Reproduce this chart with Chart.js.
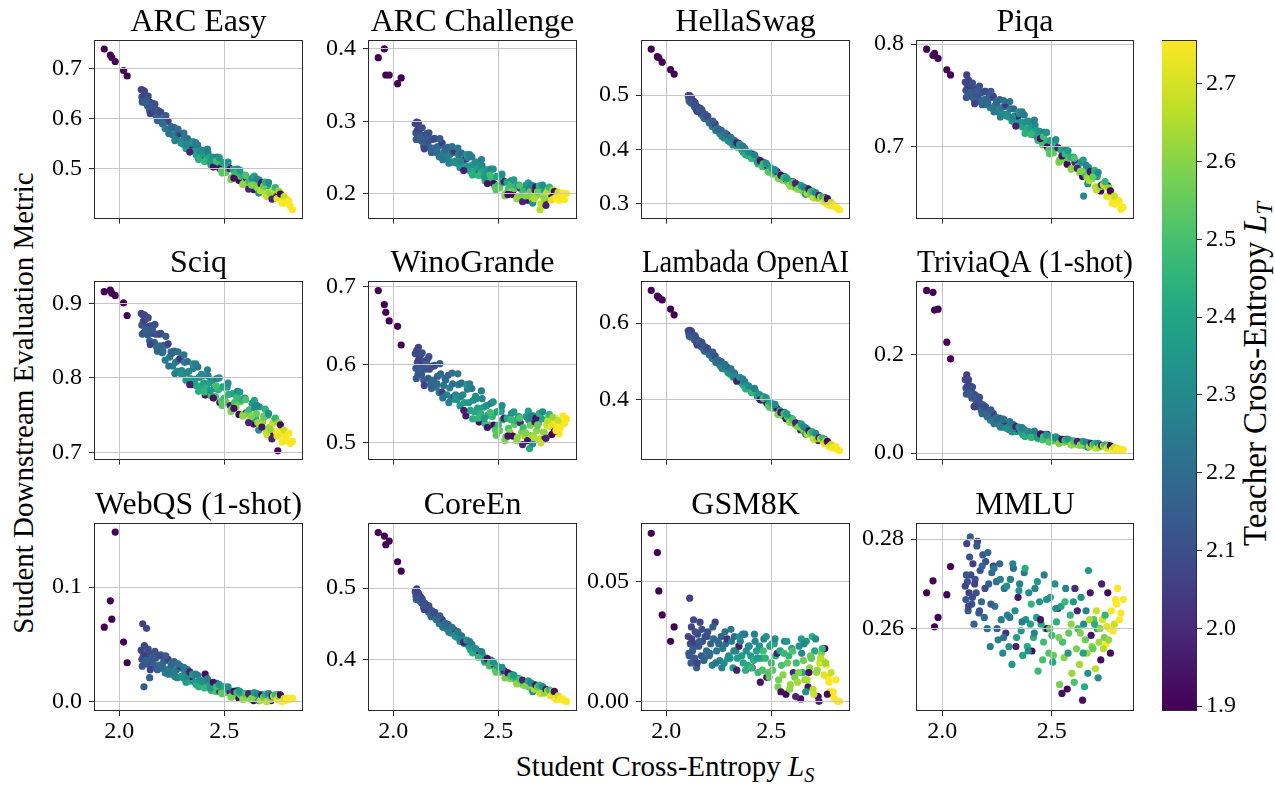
<!DOCTYPE html>
<html>
<head>
<meta charset="utf-8">
<script src="https://cdn.jsdelivr.net/npm/chart.js@4.4.1/dist/chart.umd.min.js"></script>
<style>
  html, body { margin: 0; padding: 0; background: #fff; }
  #fig { position: relative; width: 1275px; height: 788px; overflow: hidden;
         font-family: 'Liberation Serif', 'Times New Roman', serif; }
  #fig canvas { position: absolute; }
  .lbl { position: absolute; white-space: nowrap; color: #000; line-height: 1;
         transform: translate(-50%, -50%); }
  .rot { transform: translate(-50%, -50%) rotate(-90deg); }
  .lbl sub { font-size: 0.7em; vertical-align: baseline; position: relative; top: 0.28em; }
</style>
</head>
<body>
<div id="fig">
  <div class="lbl rot" style="left:23px; top:403px; font-size:29px;">Student Downstream Evaluation Metric</div>
  <div class="lbl" style="left:665px; top:766px; font-size:29px;">Student Cross-Entropy <i>L</i><sub><i>S</i></sub></div>
  <div class="lbl rot" style="left:1255px; top:374px; font-size:33px;">Teacher Cross-Entropy <i>L</i><sub><i>T</i></sub></div>
</div>
<script>
// one entry per model: student cross-entropy (x) and teacher cross-entropy (colour)
const studentCE = [
  1.929, 1.958, 1.965, 1.981, 2.021, 2.038,
  2.105, 2.108, 2.112, 2.115, 2.118, 2.122, 2.125, 2.130, 2.135, 2.140,
  2.145, 2.150, 2.155, 2.161, 2.167, 2.173, 2.179, 2.185, 2.192, 2.198,
  2.205, 2.212, 2.219, 2.226, 2.233, 2.240, 2.247, 2.255, 2.262, 2.269,
  2.276, 2.283, 2.290, 2.297, 2.304, 2.311, 2.318, 2.325, 2.332, 2.339,
  2.346, 2.353, 2.360, 2.367, 2.374, 2.381, 2.388, 2.395, 2.402, 2.409,
  2.416, 2.423, 2.430, 2.437, 2.444, 2.451, 2.458, 2.465, 2.472, 2.479,
  2.486, 2.493, 2.500, 2.507, 2.514, 2.521, 2.528, 2.535, 2.542, 2.549,
  2.556, 2.563, 2.570, 2.577, 2.584, 2.591, 2.598, 2.605, 2.612, 2.619,
  2.626, 2.633, 2.640, 2.645, 2.649, 2.653, 2.660, 2.667, 2.675, 2.683,
  2.691, 2.699, 2.707, 2.715, 2.723, 2.731, 2.739, 2.747, 2.755, 2.763,
  2.771, 2.780, 2.790, 2.800, 2.815, 2.825,
  2.110, 2.120, 2.128, 2.138, 2.148, 2.158, 2.170, 2.182, 2.195, 2.208,
  2.222, 2.236, 2.250, 2.265, 2.280, 2.294, 2.308, 2.322, 2.336, 2.350,
  2.364, 2.378, 2.392, 2.406, 2.420, 2.434, 2.448, 2.462, 2.476, 2.490,
  2.504, 2.518, 2.532, 2.546, 2.560, 2.574, 2.588, 2.602, 2.616, 2.630,
  2.643, 2.656, 2.664, 2.671, 2.679, 2.687, 2.695, 2.703, 2.711, 2.719,
  2.727, 2.735, 2.743, 2.751, 2.759, 2.767, 2.775, 2.785, 2.795, 2.808
];
const teacherCE = [
  1.895, 1.895, 1.895, 1.895, 1.895, 1.895,
  2.08, 2.12, 2.06, 2.10, 2.14, 2.05, 2.11, 2.08, 2.13, 2.04,
  2.16, 2.09, 2.12, 2.07, 2.15, 2.10, 2.18, 2.13, 2.20, 2.11,
  2.22, 2.16, 2.25, 2.19, 2.05, 2.24, 2.21, 2.28, 2.17, 2.26,
  2.30, 2.22, 2.02, 2.29, 2.33, 2.25, 2.36, 2.20, 2.31, 2.38,
  1.95, 2.27, 2.35, 2.40, 2.24, 2.33, 2.42, 2.30, 2.37, 1.93,
  2.44, 2.28, 2.39, 2.47, 2.34, 2.41, 2.50, 2.26, 2.45, 1.92,
  2.52, 2.38, 2.48, 2.55, 2.32, 2.44, 1.96, 2.57, 2.40, 2.50,
  2.60, 2.29, 1.91, 2.54, 2.45, 2.62, 2.36, 2.00, 2.58, 2.48,
  2.64, 2.33, 1.93, 2.30, 2.42, 2.56, 2.62, 2.35, 1.95, 2.60,
  2.52, 2.66, 2.40, 2.63, 1.92, 2.70, 2.58, 2.755, 1.90, 2.755,
  2.755, 2.755, 2.755, 2.755, 2.755, 2.755,
  2.13, 2.07, 2.15, 2.10, 2.06, 2.14, 2.11, 2.17, 2.09, 2.19,
  2.14, 2.23, 2.18, 2.27, 2.21, 2.32, 2.24, 2.28, 1.97, 2.34,
  2.26, 2.43, 2.31, 2.46, 2.27, 2.36, 1.94, 2.49, 2.33, 2.53,
  2.42, 2.31, 2.58, 1.93, 2.47, 2.36, 2.61, 2.51, 1.98, 2.59,
  2.38, 2.28, 2.32, 2.65, 1.94, 2.55, 2.44, 2.68, 2.31, 2.61,
  1.97, 2.66, 2.46, 2.72, 2.62, 1.92, 2.755, 2.68, 2.755, 2.755
];

// downstream metric of each model, one array per benchmark
const arcEasy = [
  0.739, 0.727, 0.722, 0.714, 0.696, 0.685,
  0.658, 0.643, 0.657, 0.645, 0.633, 0.646, 0.636, 0.645, 0.625, 0.634,
  0.616, 0.632, 0.623, 0.630, 0.610, 0.618, 0.602, 0.616, 0.600, 0.613,
  0.590, 0.598, 0.580, 0.595, 0.595, 0.579, 0.584, 0.567, 0.582, 0.569,
  0.558, 0.569, 0.570, 0.554, 0.549, 0.561, 0.540, 0.560, 0.548, 0.539,
  0.547, 0.549, 0.535, 0.527, 0.547, 0.534, 0.523, 0.534, 0.524, 0.517,
  0.519, 0.531, 0.523, 0.506, 0.523, 0.514, 0.504, 0.523, 0.509, 0.500,
  0.496, 0.512, 0.498, 0.492, 0.509, 0.500, 0.500, 0.482, 0.498, 0.487,
  0.482, 0.499, 0.476, 0.485, 0.487, 0.470, 0.487, 0.481, 0.471, 0.474,
  0.465, 0.481, 0.458, 0.477, 0.464, 0.470, 0.460, 0.477, 0.469, 0.460,
  0.465, 0.449, 0.466, 0.452, 0.445, 0.456, 0.460, 0.455, 0.447, 0.441,
  0.450, 0.440, 0.431, 0.438, 0.424, 0.418,
  0.633, 0.655, 0.633, 0.645, 0.610, 0.626, 0.629, 0.596, 0.613, 0.591,
  0.606, 0.570, 0.582, 0.556, 0.579, 0.551, 0.571, 0.548, 0.533, 0.554,
  0.552, 0.518, 0.537, 0.514, 0.539, 0.512, 0.503, 0.515, 0.522, 0.491,
  0.510, 0.513, 0.478, 0.481, 0.493, 0.497, 0.468, 0.486, 0.459, 0.467,
  0.485, 0.479, 0.451, 0.456, 0.472, 0.465, 0.473, 0.444, 0.472, 0.450,
  0.439, 0.458, 0.462, 0.440, 0.455, 0.449, 0.431, 0.444, 0.433, 0.435
];
const arcChallenge = [
  0.388, 0.400, 0.364, 0.364, 0.352, 0.360,
  0.297, 0.284, 0.299, 0.288, 0.276, 0.289, 0.281, 0.290, 0.273, 0.280,
  0.266, 0.281, 0.274, 0.283, 0.266, 0.274, 0.261, 0.275, 0.263, 0.276,
  0.257, 0.265, 0.251, 0.267, 0.270, 0.257, 0.263, 0.249, 0.264, 0.254,
  0.244, 0.257, 0.259, 0.245, 0.242, 0.254, 0.236, 0.256, 0.246, 0.239,
  0.248, 0.250, 0.238, 0.231, 0.251, 0.240, 0.231, 0.243, 0.235, 0.227,
  0.228, 0.239, 0.232, 0.218, 0.233, 0.225, 0.216, 0.234, 0.222, 0.214,
  0.209, 0.224, 0.212, 0.208, 0.224, 0.215, 0.217, 0.200, 0.216, 0.207,
  0.202, 0.218, 0.199, 0.207, 0.211, 0.195, 0.212, 0.208, 0.198, 0.203,
  0.195, 0.212, 0.191, 0.208, 0.197, 0.203, 0.194, 0.211, 0.205, 0.198,
  0.203, 0.178, 0.206, 0.196, 0.190, 0.201, 0.207, 0.203, 0.197, 0.193,
  0.204, 0.197, 0.191, 0.199, 0.192, 0.200,
  0.275, 0.298, 0.278, 0.291, 0.262, 0.278, 0.284, 0.257, 0.276, 0.259,
  0.276, 0.247, 0.262, 0.242, 0.265, 0.243, 0.263, 0.245, 0.232, 0.254,
  0.254, 0.226, 0.244, 0.225, 0.247, 0.223, 0.214, 0.226, 0.234, 0.205,
  0.223, 0.227, 0.197, 0.199, 0.213, 0.219, 0.193, 0.211, 0.189, 0.197,
  0.215, 0.212, 0.187, 0.193, 0.209, 0.203, 0.211, 0.186, 0.212, 0.194,
  0.184, 0.203, 0.209, 0.191, 0.205, 0.203, 0.195, 0.202, 0.195, 0.201
];
const hellaSwag = [
  0.585, 0.571, 0.569, 0.561, 0.547, 0.539,
  0.499, 0.494, 0.499, 0.493, 0.486, 0.491, 0.486, 0.489, 0.478, 0.481,
  0.472, 0.478, 0.473, 0.476, 0.465, 0.468, 0.459, 0.465, 0.456, 0.461,
  0.449, 0.451, 0.442, 0.448, 0.447, 0.438, 0.438, 0.429, 0.435, 0.427,
  0.421, 0.426, 0.427, 0.417, 0.413, 0.418, 0.408, 0.416, 0.409, 0.404,
  0.411, 0.407, 0.399, 0.394, 0.402, 0.396, 0.389, 0.393, 0.388, 0.391,
  0.383, 0.387, 0.382, 0.373, 0.380, 0.374, 0.368, 0.376, 0.369, 0.370,
  0.359, 0.367, 0.358, 0.354, 0.362, 0.357, 0.359, 0.346, 0.353, 0.346,
  0.343, 0.350, 0.345, 0.340, 0.342, 0.332, 0.340, 0.340, 0.330, 0.331,
  0.326, 0.334, 0.330, 0.331, 0.324, 0.324, 0.320, 0.328, 0.327, 0.317,
  0.319, 0.311, 0.319, 0.311, 0.315, 0.309, 0.311, 0.305, 0.311, 0.300,
  0.303, 0.299, 0.295, 0.297, 0.291, 0.288,
  0.489, 0.496, 0.484, 0.486, 0.470, 0.474, 0.473, 0.457, 0.461, 0.450,
  0.452, 0.435, 0.437, 0.424, 0.430, 0.416, 0.422, 0.411, 0.412, 0.409,
  0.406, 0.390, 0.395, 0.383, 0.390, 0.377, 0.379, 0.373, 0.374, 0.358,
  0.364, 0.362, 0.347, 0.352, 0.348, 0.347, 0.334, 0.339, 0.337, 0.328,
  0.333, 0.330, 0.317, 0.319, 0.326, 0.321, 0.323, 0.310, 0.320, 0.310,
  0.315, 0.312, 0.312, 0.303, 0.308, 0.309, 0.297, 0.302, 0.297, 0.294
];
const piqa = [
  0.795, 0.789, 0.791, 0.786, 0.775, 0.770,
  0.763, 0.755, 0.770, 0.758, 0.750, 0.759, 0.753, 0.761, 0.749, 0.755,
  0.746, 0.756, 0.751, 0.757, 0.746, 0.752, 0.743, 0.753, 0.746, 0.754,
  0.741, 0.748, 0.738, 0.748, 0.749, 0.740, 0.744, 0.734, 0.746, 0.738,
  0.732, 0.739, 0.741, 0.732, 0.729, 0.737, 0.725, 0.737, 0.730, 0.725,
  0.730, 0.732, 0.724, 0.719, 0.731, 0.724, 0.717, 0.724, 0.718, 0.712,
  0.714, 0.721, 0.716, 0.706, 0.715, 0.709, 0.702, 0.714, 0.706, 0.700,
  0.697, 0.706, 0.698, 0.694, 0.704, 0.699, 0.699, 0.687, 0.697, 0.690,
  0.687, 0.697, 0.683, 0.689, 0.690, 0.679, 0.690, 0.685, 0.679, 0.681,
  0.675, 0.685, 0.671, 0.652, 0.674, 0.677, 0.670, 0.680, 0.676, 0.669,
  0.672, 0.661, 0.671, 0.661, 0.657, 0.662, 0.664, 0.661, 0.662, 0.651,
  0.656, 0.650, 0.644, 0.648, 0.639, 0.641,
  0.748, 0.765, 0.753, 0.762, 0.742, 0.754, 0.759, 0.741, 0.754, 0.743,
  0.754, 0.734, 0.743, 0.729, 0.745, 0.730, 0.744, 0.729, 0.720, 0.734,
  0.734, 0.713, 0.725, 0.712, 0.726, 0.709, 0.708, 0.710, 0.714, 0.693,
  0.705, 0.707, 0.685, 0.691, 0.693, 0.696, 0.678, 0.689, 0.679, 0.676,
  0.687, 0.682, 0.664, 0.667, 0.675, 0.671, 0.677, 0.658, 0.675, 0.661,
  0.663, 0.663, 0.666, 0.652, 0.660, 0.657, 0.645, 0.652, 0.645, 0.647
];
const sciq = [
  0.916, 0.918, 0.914, 0.911, 0.901, 0.884,
  0.887, 0.871, 0.885, 0.876, 0.861, 0.878, 0.868, 0.880, 0.858, 0.869,
  0.850, 0.870, 0.860, 0.870, 0.848, 0.859, 0.841, 0.859, 0.843, 0.860,
  0.834, 0.844, 0.824, 0.844, 0.846, 0.828, 0.835, 0.816, 0.836, 0.821,
  0.809, 0.824, 0.826, 0.810, 0.805, 0.821, 0.797, 0.822, 0.809, 0.799,
  0.791, 0.813, 0.798, 0.790, 0.815, 0.801, 0.789, 0.803, 0.793, 0.777,
  0.787, 0.803, 0.794, 0.776, 0.797, 0.786, 0.775, 0.799, 0.784, 0.767,
  0.769, 0.788, 0.773, 0.768, 0.788, 0.778, 0.763, 0.758, 0.779, 0.767,
  0.761, 0.782, 0.751, 0.768, 0.771, 0.751, 0.773, 0.753, 0.753, 0.757,
  0.746, 0.766, 0.738, 0.760, 0.745, 0.752, 0.740, 0.761, 0.737, 0.741,
  0.748, 0.729, 0.750, 0.734, 0.723, 0.739, 0.744, 0.728, 0.702, 0.723,
  0.729, 0.725, 0.715, 0.725, 0.712, 0.715,
  0.859, 0.885, 0.865, 0.881, 0.845, 0.865, 0.872, 0.836, 0.859, 0.836,
  0.856, 0.816, 0.833, 0.806, 0.835, 0.806, 0.831, 0.807, 0.791, 0.819,
  0.819, 0.782, 0.805, 0.781, 0.811, 0.783, 0.773, 0.789, 0.800, 0.763,
  0.788, 0.793, 0.755, 0.759, 0.774, 0.781, 0.749, 0.771, 0.740, 0.749,
  0.770, 0.763, 0.730, 0.737, 0.734, 0.748, 0.758, 0.724, 0.752, 0.731,
  0.718, 0.741, 0.746, 0.722, 0.740, 0.737, 0.714, 0.730, 0.720, 0.726
];
const winoGrande = [
  0.695, 0.677, 0.667, 0.656, 0.649, 0.625,
  0.614, 0.595, 0.618, 0.603, 0.587, 0.607, 0.595, 0.612, 0.587, 0.601,
  0.580, 0.604, 0.594, 0.606, 0.582, 0.594, 0.575, 0.598, 0.580, 0.599,
  0.571, 0.585, 0.564, 0.588, 0.564, 0.573, 0.582, 0.561, 0.586, 0.570,
  0.557, 0.575, 0.558, 0.561, 0.555, 0.574, 0.547, 0.576, 0.561, 0.551,
  0.534, 0.568, 0.551, 0.541, 0.569, 0.554, 0.539, 0.556, 0.544, 0.526,
  0.537, 0.556, 0.545, 0.524, 0.547, 0.535, 0.522, 0.550, 0.533, 0.522,
  0.516, 0.539, 0.522, 0.515, 0.540, 0.529, 0.531, 0.507, 0.531, 0.518,
  0.513, 0.537, 0.508, 0.523, 0.528, 0.506, 0.533, 0.525, 0.513, 0.519,
  0.508, 0.533, 0.502, 0.529, 0.492, 0.522, 0.509, 0.534, 0.526, 0.515,
  0.524, 0.504, 0.530, 0.513, 0.506, 0.522, 0.532, 0.527, 0.510, 0.524,
  0.531, 0.521, 0.511, 0.526, 0.524, 0.530,
  0.582, 0.622, 0.594, 0.615, 0.573, 0.600, 0.610, 0.569, 0.598, 0.575,
  0.601, 0.557, 0.580, 0.551, 0.589, 0.555, 0.588, 0.559, 0.541, 0.574,
  0.575, 0.530, 0.559, 0.531, 0.566, 0.531, 0.519, 0.538, 0.552, 0.509,
  0.540, 0.547, 0.502, 0.508, 0.529, 0.539, 0.502, 0.531, 0.497, 0.512,
  0.540, 0.534, 0.498, 0.506, 0.531, 0.522, 0.537, 0.499, 0.539, 0.512,
  0.505, 0.527, 0.536, 0.520, 0.532, 0.514, 0.515, 0.528, 0.518, 0.534
];
const lambada = [
  0.686, 0.671, 0.667, 0.661, 0.637, 0.622,
  0.580, 0.573, 0.581, 0.573, 0.564, 0.571, 0.564, 0.569, 0.556, 0.560,
  0.548, 0.556, 0.549, 0.552, 0.539, 0.542, 0.531, 0.538, 0.527, 0.533,
  0.517, 0.521, 0.508, 0.515, 0.514, 0.502, 0.503, 0.490, 0.499, 0.488,
  0.480, 0.484, 0.484, 0.473, 0.467, 0.473, 0.459, 0.469, 0.459, 0.452,
  0.455, 0.455, 0.444, 0.437, 0.447, 0.438, 0.428, 0.433, 0.425, 0.418,
  0.418, 0.424, 0.417, 0.405, 0.413, 0.405, 0.397, 0.407, 0.397, 0.390,
  0.385, 0.393, 0.383, 0.377, 0.385, 0.378, 0.376, 0.363, 0.371, 0.362,
  0.357, 0.366, 0.350, 0.354, 0.353, 0.341, 0.350, 0.343, 0.335, 0.335,
  0.328, 0.336, 0.320, 0.330, 0.321, 0.324, 0.315, 0.324, 0.318, 0.310,
  0.311, 0.299, 0.309, 0.298, 0.293, 0.297, 0.298, 0.294, 0.295, 0.283,
  0.288, 0.281, 0.274, 0.277, 0.268, 0.266,
  0.566, 0.579, 0.563, 0.567, 0.543, 0.551, 0.550, 0.527, 0.534, 0.518,
  0.524, 0.497, 0.501, 0.482, 0.492, 0.471, 0.480, 0.462, 0.448, 0.458,
  0.454, 0.428, 0.436, 0.418, 0.429, 0.409, 0.399, 0.403, 0.404, 0.380,
  0.389, 0.387, 0.361, 0.366, 0.363, 0.362, 0.340, 0.347, 0.339, 0.328,
  0.336, 0.328, 0.309, 0.310, 0.318, 0.312, 0.316, 0.296, 0.311, 0.297,
  0.300, 0.297, 0.299, 0.285, 0.292, 0.290, 0.276, 0.282, 0.274, 0.276
];
const triviaQA = [
  0.330, 0.326, 0.290, 0.292, 0.225, 0.191,
  0.149, 0.132, 0.159, 0.136, 0.120, 0.136, 0.125, 0.136, 0.112, 0.121,
  0.095, 0.118, 0.107, 0.114, 0.094, 0.101, 0.086, 0.098, 0.084, 0.093,
  0.074, 0.080, 0.067, 0.079, 0.080, 0.068, 0.072, 0.059, 0.071, 0.061,
  0.053, 0.062, 0.063, 0.052, 0.048, 0.058, 0.043, 0.058, 0.049, 0.044,
  0.049, 0.050, 0.043, 0.038, 0.048, 0.042, 0.036, 0.043, 0.038, 0.040,
  0.034, 0.041, 0.036, 0.029, 0.037, 0.032, 0.027, 0.038, 0.031, 0.038,
  0.023, 0.033, 0.026, 0.025, 0.031, 0.028, 0.030, 0.021, 0.028, 0.024,
  0.022, 0.028, 0.028, 0.023, 0.024, 0.017, 0.025, 0.023, 0.018, 0.020,
  0.016, 0.023, 0.021, 0.021, 0.016, 0.019, 0.014, 0.021, 0.018, 0.016,
  0.017, 0.011, 0.018, 0.013, 0.015, 0.014, 0.016, 0.014, 0.016, 0.009,
  0.012, 0.010, 0.007, 0.010, 0.006, 0.007,
  0.120, 0.149, 0.121, 0.134, 0.094, 0.112, 0.113, 0.080, 0.095, 0.076,
  0.088, 0.060, 0.070, 0.053, 0.069, 0.050, 0.064, 0.049, 0.054, 0.053,
  0.052, 0.034, 0.044, 0.032, 0.045, 0.032, 0.039, 0.033, 0.037, 0.023,
  0.032, 0.033, 0.020, 0.028, 0.026, 0.028, 0.017, 0.024, 0.024, 0.017,
  0.024, 0.022, 0.012, 0.014, 0.020, 0.017, 0.020, 0.010, 0.020, 0.013,
  0.016, 0.015, 0.017, 0.010, 0.014, 0.015, 0.007, 0.012, 0.008, 0.008
];
const webQS = [
  0.065, 0.088, 0.072, 0.148, 0.052, 0.034,
  0.045, 0.037, 0.068, 0.040, 0.013, 0.041, 0.036, 0.064, 0.033, 0.039,
  0.021, 0.041, 0.037, 0.042, 0.032, 0.038, 0.029, 0.040, 0.032, 0.041,
  0.029, 0.035, 0.025, 0.036, 0.037, 0.029, 0.033, 0.024, 0.035, 0.027,
  0.021, 0.029, 0.031, 0.022, 0.021, 0.027, 0.017, 0.028, 0.022, 0.018,
  0.022, 0.023, 0.017, 0.015, 0.023, 0.019, 0.014, 0.018, 0.015, 0.024,
  0.013, 0.018, 0.015, 0.010, 0.015, 0.013, 0.009, 0.016, 0.012, 0.009,
  0.008, 0.013, 0.009, 0.008, 0.012, 0.010, 0.009, 0.005, 0.009, 0.006,
  0.005, 0.010, 0.003, 0.006, 0.007, 0.002, 0.007, 0.006, 0.004, 0.005,
  0.002, 0.007, 0.001, 0.006, 0.003, 0.005, 0.002, 0.006, 0.004, 0.003,
  0.004, 0.001, 0.005, 0.002, 0.001, 0.004, 0.005, 0.004, 0.006, 0.002,
  0.003, 0.002, 0.001, 0.003, 0.002, 0.003,
  0.031, 0.049, 0.036, 0.046, 0.028, 0.039, 0.044, 0.028, 0.040, 0.030,
  0.040, 0.024, 0.032, 0.022, 0.033, 0.022, 0.030, 0.022, 0.026, 0.024,
  0.024, 0.013, 0.018, 0.012, 0.020, 0.012, 0.017, 0.013, 0.015, 0.007,
  0.013, 0.013, 0.004, 0.009, 0.008, 0.009, 0.002, 0.007, 0.007, 0.003,
  0.008, 0.007, 0.001, 0.001, 0.006, 0.004, 0.006, 0.000, 0.007, 0.002,
  0.005, 0.005, 0.006, 0.002, 0.005, 0.006, 0.000, 0.003, 0.002, 0.003
];
const coreEn = [
  0.578, 0.573, 0.561, 0.566, 0.537, 0.524,
  0.495, 0.489, 0.499, 0.490, 0.484, 0.488, 0.484, 0.488, 0.479, 0.481,
  0.473, 0.479, 0.474, 0.476, 0.467, 0.470, 0.462, 0.468, 0.461, 0.466,
  0.456, 0.458, 0.450, 0.457, 0.456, 0.449, 0.451, 0.443, 0.449, 0.443,
  0.437, 0.442, 0.441, 0.434, 0.431, 0.435, 0.425, 0.433, 0.427, 0.422,
  0.425, 0.424, 0.418, 0.414, 0.421, 0.416, 0.410, 0.413, 0.408, 0.411,
  0.404, 0.408, 0.403, 0.396, 0.402, 0.397, 0.391, 0.399, 0.392, 0.393,
  0.385, 0.391, 0.384, 0.382, 0.388, 0.383, 0.384, 0.375, 0.381, 0.376,
  0.373, 0.379, 0.376, 0.373, 0.374, 0.366, 0.373, 0.371, 0.365, 0.366,
  0.363, 0.369, 0.367, 0.366, 0.361, 0.364, 0.359, 0.365, 0.363, 0.359,
  0.360, 0.353, 0.359, 0.354, 0.357, 0.355, 0.356, 0.350, 0.354, 0.348,
  0.350, 0.348, 0.344, 0.345, 0.342, 0.341,
  0.484, 0.493, 0.482, 0.485, 0.470, 0.475, 0.475, 0.460, 0.465, 0.456,
  0.461, 0.445, 0.450, 0.438, 0.445, 0.433, 0.439, 0.428, 0.424, 0.427,
  0.425, 0.409, 0.415, 0.403, 0.411, 0.398, 0.401, 0.395, 0.397, 0.382,
  0.389, 0.389, 0.374, 0.381, 0.377, 0.378, 0.366, 0.372, 0.371, 0.363,
  0.370, 0.367, 0.355, 0.358, 0.364, 0.361, 0.364, 0.352, 0.362, 0.353,
  0.358, 0.356, 0.357, 0.349, 0.355, 0.355, 0.344, 0.349, 0.345, 0.344
];
const gsm8k = [
  0.070, 0.062, 0.046, 0.036, 0.025, 0.031,
  0.027, 0.020, 0.043, 0.024, 0.016, 0.026, 0.021, 0.034, 0.018, 0.024,
  0.014, 0.028, 0.023, 0.033, 0.019, 0.025, 0.017, 0.027, 0.021, 0.029,
  0.019, 0.024, 0.015, 0.026, 0.033, 0.021, 0.025, 0.017, 0.027, 0.022,
  0.016, 0.024, 0.026, 0.019, 0.018, 0.025, 0.014, 0.027, 0.021, 0.018,
  0.023, 0.025, 0.019, 0.016, 0.028, 0.021, 0.015, 0.023, 0.019, 0.014,
  0.017, 0.025, 0.021, 0.012, 0.023, 0.018, 0.013, 0.026, 0.018, 0.010,
  0.012, 0.023, 0.016, 0.013, 0.024, 0.019, 0.020, 0.009, 0.021, 0.015,
  0.011, 0.025, 0.003, 0.016, 0.019, 0.007, 0.022, 0.012, 0.010, 0.016,
  0.008, 0.023, 0.001, 0.020, 0.012, 0.017, 0.009, 0.025, 0.006, 0.014,
  0.018, 0.005, 0.021, 0.012, 0.002, 0.016, 0.020, 0.017, 0.022, 0.015,
  0.010, 0.004, 0.003, 0.001, 0.000, 0.000,
  0.019, 0.031, 0.022, 0.029, 0.016, 0.025, 0.030, 0.018, 0.027, 0.020,
  0.031, 0.016, 0.024, 0.014, 0.029, 0.018, 0.030, 0.021, 0.013, 0.027,
  0.028, 0.013, 0.023, 0.014, 0.028, 0.018, 0.008, 0.021, 0.027, 0.010,
  0.024, 0.026, 0.006, 0.004, 0.020, 0.025, 0.005, 0.021, 0.002, 0.012,
  0.026, 0.024, 0.004, 0.009, 0.012, 0.019, 0.027, 0.003, 0.026, 0.013,
  0.000, 0.018, 0.022, 0.011, 0.016, 0.003, 0.008, 0.012, 0.004, 0.009
];
const mmlu = [
  0.2680, 0.2707, 0.2604, 0.2625, 0.2676, 0.2739,
  0.2695, 0.2665, 0.2790, 0.2705, 0.2640, 0.2680, 0.2760, 0.2720, 0.2655, 0.2745,
  0.2610, 0.2710, 0.2680, 0.2795, 0.2635, 0.2730, 0.2660, 0.2765, 0.2625, 0.2750,
  0.2600, 0.2700, 0.2560, 0.2725, 0.2740, 0.2650, 0.2705, 0.2575, 0.2745, 0.2620,
  0.2545, 0.2690, 0.2590, 0.2630, 0.2560, 0.2710, 0.2520, 0.2735, 0.2640, 0.2580,
  0.2670, 0.2700, 0.2595, 0.2540, 0.2725, 0.2620, 0.2560, 0.2680, 0.2610, 0.2550,
  0.2580, 0.2690, 0.2625, 0.2505, 0.2660, 0.2610, 0.2530, 0.2720, 0.2600, 0.2600,
  0.2545, 0.2670, 0.2585, 0.2540, 0.2700, 0.2615, 0.2645, 0.2475, 0.2650, 0.2570,
  0.2535, 0.2690, 0.2465, 0.2590, 0.2630, 0.2500, 0.2660, 0.2690, 0.2555, 0.2600,
  0.2520, 0.2670, 0.2440, 0.2610, 0.2470, 0.2575, 0.2545, 0.2730, 0.2680, 0.2560,
  0.2620, 0.2510, 0.2600, 0.2570, 0.2530, 0.2620, 0.2580, 0.2565, 0.2680, 0.2600,
  0.2640, 0.2595, 0.2665, 0.2690, 0.2635, 0.2665,
  0.2720, 0.2650, 0.2805, 0.2670, 0.2700, 0.2785, 0.2640, 0.2740, 0.2690, 0.2770,
  0.2655, 0.2735, 0.2600, 0.2710, 0.2580, 0.2695, 0.2625, 0.2745, 0.2560, 0.2685,
  0.2615, 0.2735, 0.2550, 0.2655, 0.2590, 0.2705, 0.2620, 0.2570, 0.2665, 0.2600,
  0.2525, 0.2645, 0.2580, 0.2455, 0.2660, 0.2545, 0.2610, 0.2480, 0.2640, 0.2590,
  0.2545, 0.2640, 0.2500, 0.2620, 0.2585, 0.2555, 0.2610, 0.2640, 0.2490, 0.2600,
  0.2700, 0.2555, 0.2630, 0.2605, 0.2575, 0.2545, 0.2595, 0.2610, 0.2655, 0.2620
];

const titles = ['ARC Easy', 'ARC Challenge', 'HellaSwag', 'Piqa',
  'Sciq', 'WinoGrande', 'Lambada OpenAI', 'TriviaQA (1-shot)',
  'WebQS (1-shot)', 'CoreEn', 'GSM8K', 'MMLU'];
const metrics = [arcEasy, arcChallenge, hellaSwag, piqa, sciq, winoGrande,
  lambada, triviaQA, webQS, coreEn, gsm8k, mmlu];
const yRanges = [[0.402, 0.755], [0.167, 0.411], [0.274, 0.600], [0.631, 0.803],
  [0.6916, 0.929], [0.479, 0.706], [0.245, 0.708], [-0.011, 0.347],
  [-0.0072, 0.155], [0.329, 0.590], [-0.0036, 0.0739], [0.2418, 0.2834]];
const yTickLabels = [['0.5', '0.6', '0.7'], ['0.2', '0.3', '0.4'], ['0.3', '0.4', '0.5'], ['0.7', '0.8'],
  ['0.7', '0.8', '0.9'], ['0.5', '0.6', '0.7'], ['0.4', '0.6'], ['0.0', '0.2'],
  ['0.0', '0.1'], ['0.4', '0.5'], ['0.00', '0.05'], ['0.26', '0.28']];
const xTickLabels = ['2.0', '2.5'];
const cbTickLabels = ['1.9', '2.0', '2.1', '2.2', '2.3', '2.4', '2.5', '2.6', '2.7'];
const X_MIN = 1.885, X_MAX = 2.87;
const CB_MIN = 1.895, CB_MAX = 2.755;

// layout of the plot areas in page pixels
const COLS = [[95, 302], [369, 576], [642, 849], [917, 1133]];
const ROWS = [[41, 227], [282, 468], [524, 710]];
const CB_BOX = [1162, 41, 1196, 710];

const SERIF = "'Liberation Serif', 'Times New Roman', serif";
const GRID = '#c6c6c6';
const INK = '#2b2b2b';
const VIRIDIS = ['#440154', '#482475', '#414487', '#355f8d', '#2a788e', '#21918c',
  '#22a884', '#44bf70', '#7ad151', '#bddf26', '#fde725'];

Chart.defaults.font.family = SERIF;
Chart.defaults.color = '#000';

function hexRgb(h) {
  return [1, 3, 5].map(i => parseInt(h.slice(i, i + 2), 16));
}
function viridis(v) {
  let f = Math.min(1, Math.max(0, (v - CB_MIN) / (CB_MAX - CB_MIN))) * (VIRIDIS.length - 1);
  const i = Math.min(Math.floor(f), VIRIDIS.length - 2), r = f - i;
  const a = hexRgb(VIRIDIS[i]), b = hexRgb(VIRIDIS[i + 1]);
  const c = a.map((ch, k) => Math.round(ch + (b[k] - ch) * r));
  return 'rgb(' + c.join(',') + ')';
}

const frame = {
  id: 'frame',
  afterDraw(chart) {
    const a = chart.chartArea, c = chart.ctx;
    c.save();
    c.strokeStyle = INK;
    c.lineWidth = 1;
    c.strokeRect(Math.round(a.left) - 0.5, Math.round(a.top) - 0.5,
      Math.round(a.right - a.left) + 1, Math.round(a.bottom - a.top) + 1);
    c.restore();
  }
};

const fig = document.getElementById('fig');
const pointColors = teacherCE.map(viridis);
const PAD_L = 90, PAD_R = 25, PAD_T = 36;

metrics.forEach((vals, k) => {
  const col = k % 4, row = Math.floor(k / 4);
  const [L, R] = COLS[col], [T, B] = ROWS[row];
  const bottomRow = row === 2;
  const padB = bottomRow ? 45 : 12;
  const cv = document.createElement('canvas');
  cv.width = PAD_L + (R - L) + PAD_R;
  cv.height = PAD_T + (B - T) + padB;
  cv.style.left = (L - PAD_L) + 'px';
  cv.style.top = (T - PAD_T) + 'px';
  fig.appendChild(cv);

  const labels = yTickLabels[k];
  new Chart(cv, {
    type: 'scatter',
    data: {
      datasets: [{
        data: studentCE.map((x, i) => ({ x: x, y: vals[i] })),
        backgroundColor: pointColors,
        pointRadius: 3.6,
        pointHoverRadius: 3.6,
        pointBorderWidth: 0
      }]
    },
    options: {
      responsive: false,
      animation: false,
      devicePixelRatio: 1,
      events: [],
      layout: { padding: { left: 0, right: PAD_R, top: 0, bottom: 0 } },
      plugins: {
        legend: { display: false },
        tooltip: { enabled: false },
        title: {
          display: true, text: titles[k], color: '#000', fullSize: false,
          font: { family: SERIF, size: 32, weight: 'normal', lineHeight: 1.125 },
          padding: 0
        }
      },
      scales: {
        x: {
          type: 'linear', min: X_MIN, max: X_MAX,
          afterFit: s => { s.height = padB; },
          afterBuildTicks: s => { s.ticks = xTickLabels.map(t => ({ value: parseFloat(t) })); },
          // grid above the markers, as matplotlib draws it by default
          grid: { z: 1, color: GRID, lineWidth: 1, tickColor: INK, tickLength: 6, tickWidth: 1 },
          border: { display: false },
          ticks: {
            display: bottomRow, color: '#000', padding: 1, maxRotation: 0,
            font: { family: SERIF, size: 24, weight: 'normal' },
            callback: (v, i) => xTickLabels[i]
          }
        },
        y: {
          type: 'linear', min: yRanges[k][0], max: yRanges[k][1],
          afterFit: s => { s.width = PAD_L; },
          afterBuildTicks: s => { s.ticks = labels.map(t => ({ value: parseFloat(t) })); },
          grid: { z: 1, color: GRID, lineWidth: 1, tickColor: INK, tickLength: 6, tickWidth: 1 },
          border: { display: false },
          ticks: {
            color: '#000', padding: 7,
            font: { family: SERIF, size: 24, weight: 'normal' },
            callback: (v, i) => labels[i]
          }
        }
      }
    },
    plugins: [frame]
  });
});

// colour bar for the teacher cross-entropy
const cbCanvas = document.createElement('canvas');
const CB_AXIS = 80, CB_PAD = 20;
cbCanvas.width = (CB_BOX[2] - CB_BOX[0]) + CB_AXIS;
cbCanvas.height = (CB_BOX[3] - CB_BOX[1]) + 2 * CB_PAD;
cbCanvas.style.left = CB_BOX[0] + 'px';
cbCanvas.style.top = (CB_BOX[1] - CB_PAD) + 'px';
fig.appendChild(cbCanvas);

new Chart(cbCanvas, {
  type: 'bar',
  data: {
    labels: [''],
    datasets: [{
      data: [[CB_MIN, CB_MAX]],
      barPercentage: 1,
      categoryPercentage: 1,
      borderWidth: 0,
      backgroundColor: ctx => {
        const a = ctx.chart.chartArea;
        if (!a) return VIRIDIS[0];
        const g = ctx.chart.ctx.createLinearGradient(0, a.bottom, 0, a.top);
        VIRIDIS.forEach((c, i) => g.addColorStop(i / (VIRIDIS.length - 1), c));
        return g;
      }
    }]
  },
  options: {
    responsive: false,
    animation: false,
    devicePixelRatio: 1,
    events: [],
    layout: { padding: { left: 0, right: 0, top: CB_PAD, bottom: CB_PAD } },
    plugins: { legend: { display: false }, tooltip: { enabled: false } },
    scales: {
      x: { display: false },
      y: {
        position: 'right', min: CB_MIN, max: CB_MAX,
        afterFit: s => { s.width = CB_AXIS; },
        afterBuildTicks: s => { s.ticks = cbTickLabels.map(t => ({ value: parseFloat(t) })); },
        grid: { drawOnChartArea: false, tickColor: INK, tickLength: 6, tickWidth: 1 },
        border: { display: false },
        ticks: {
          color: '#000', padding: 4,
          font: { family: SERIF, size: 24, weight: 'normal' },
          callback: (v, i) => cbTickLabels[i]
        }
      }
    }
  },
  plugins: [frame]
});
</script>
</body>
</html>
